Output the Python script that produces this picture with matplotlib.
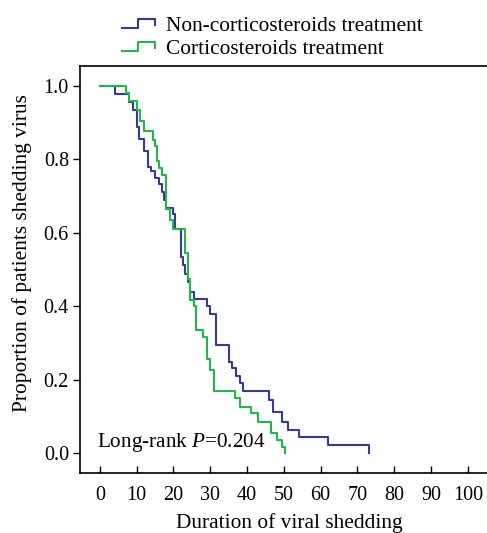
import matplotlib
matplotlib.use("Agg")
import matplotlib.pyplot as plt
from matplotlib.legend_handler import HandlerBase
from matplotlib.lines import Line2D

# ---- data ----
non_cs_time = [0, 4, 8, 9, 10, 10.5, 12, 13, 14, 15, 16, 17, 17.5, 18, 20, 20.5, 22, 22.5,
               23, 24, 24.5, 25.5, 29, 30, 31.5, 35, 36, 37, 38, 39, 46, 47, 49.5, 51,
               54, 62, 73]
non_cs_surv = [1.0, 0.978, 0.956, 0.933, 0.889, 0.856, 0.822, 0.778, 0.767, 0.750, 0.733,
               0.711, 0.689, 0.667, 0.650, 0.611, 0.533, 0.511, 0.489, 0.467, 0.440, 0.420,
               0.400, 0.378, 0.294, 0.248, 0.232, 0.210, 0.190, 0.170, 0.144, 0.112, 0.084,
               0.063, 0.044, 0.022, 0.0]

cs_time = [0, 7, 8, 10, 11, 12, 14.5, 15, 15.5, 16, 17, 18, 19, 20, 23, 24, 24.5, 25.5,
           26, 28, 29, 30, 31, 36.7, 38, 41, 43, 46.5, 48, 49.5, 50.3]
cs_surv = [1.0, 0.980, 0.960, 0.935, 0.905, 0.877, 0.853, 0.836, 0.796, 0.777, 0.757,
           0.664, 0.636, 0.609, 0.545, 0.473, 0.418, 0.400, 0.336, 0.316, 0.255, 0.227,
           0.170, 0.150, 0.125, 0.109, 0.085, 0.055, 0.035, 0.016, 0.0]

series_labels = ["Non-corticosteroids treatment", "Corticosteroids treatment"]
x_ticks = [0, 10, 20, 30, 40, 50, 60, 70, 80, 90, 100]
y_ticks = [0.0, 0.2, 0.4, 0.6, 0.8, 1.0]
annotation = "Long-rank $\\it{P}$=0.204"

BLUE = "#343b93"
GREEN = "#25b54b"

plt.rcParams["font.family"] = ["Liberation Serif", "DejaVu Serif"]
plt.rcParams["mathtext.fontset"] = "custom"
plt.rcParams["mathtext.it"] = "Liberation Serif:italic"
plt.rcParams["mathtext.rm"] = "Liberation Serif"

W, H = 487, 533
fig = plt.figure(figsize=(W / 100, H / 100), dpi=100)

# axes: left spine at px 80, bottom at px 473, top at px 66; right spine off-canvas
xmin, xmax = -5.4, 110
ymin, ymax = -0.054, 1.054
px_per_x = 3.68
ax_left = 80 / W
ax_bottom = (H - 473) / H
ax_h = (473 - 66) / H
ax_w = (xmax - xmin) * px_per_x / W
ax = fig.add_axes([ax_left, ax_bottom, ax_w, ax_h])

ax.step(non_cs_time, non_cs_surv, where="post", color=BLUE, lw=1.5)
ax.step(cs_time, cs_surv, where="post", color=GREEN, lw=1.5)

ax.set_xlim(xmin, xmax)
ax.set_ylim(ymin, ymax)
ax.set_xticks(x_ticks)
ax.set_yticks(y_ticks)
ax.set_yticklabels([f"{v:.1f}" for v in y_ticks])
ax.tick_params(axis="x", direction="in", length=5, width=1, labelsize=14.5, pad=9)
ax.tick_params(axis="y", direction="out", length=5, width=1, labelsize=14.5, pad=3)
for s in ax.spines.values():
    s.set_linewidth(1.2)

ax.text(-0.8, 0.03, annotation, fontsize=15.2, ha="left", va="center")

fig.text(289 / W, 1 - 523 / H, "Duration of viral shedding", fontsize=15.4,
         ha="center", va="center")
fig.text(22 / W, 1 - 253 / H, "Proportion of patients shedding virus", fontsize=15.4,
         ha="center", va="center", rotation=90)


class StepHandler(HandlerBase):
    def create_artists(self, legend, orig_handle, xdescent, ydescent, width, height,
                       fontsize, trans):
        x0 = -xdescent
        y0 = -ydescent
        xs = [x0, x0 + 0.47 * width, x0 + 0.47 * width, x0 + width, x0 + width]
        ys = [y0 + 0.2 * height, y0 + 0.2 * height, y0 + 0.8 * height,
              y0 + 0.8 * height, y0 + 0.45 * height]
        ln = Line2D(xs, ys, color=orig_handle.get_color(), lw=1.5)
        ln.set_transform(trans)
        return [ln]


handles = [Line2D([], [], color=BLUE), Line2D([], [], color=GREEN)]
fig.legend(handles, series_labels, handler_map={Line2D: StepHandler()},
           loc="upper left", bbox_to_anchor=(118 / W, 1 - 12 / H), frameon=False,
           fontsize=15.4, handlelength=1.55, handletextpad=0.5, labelspacing=0.15,
           borderaxespad=0, borderpad=0.2)

fig.savefig("out.png", dpi=100)
